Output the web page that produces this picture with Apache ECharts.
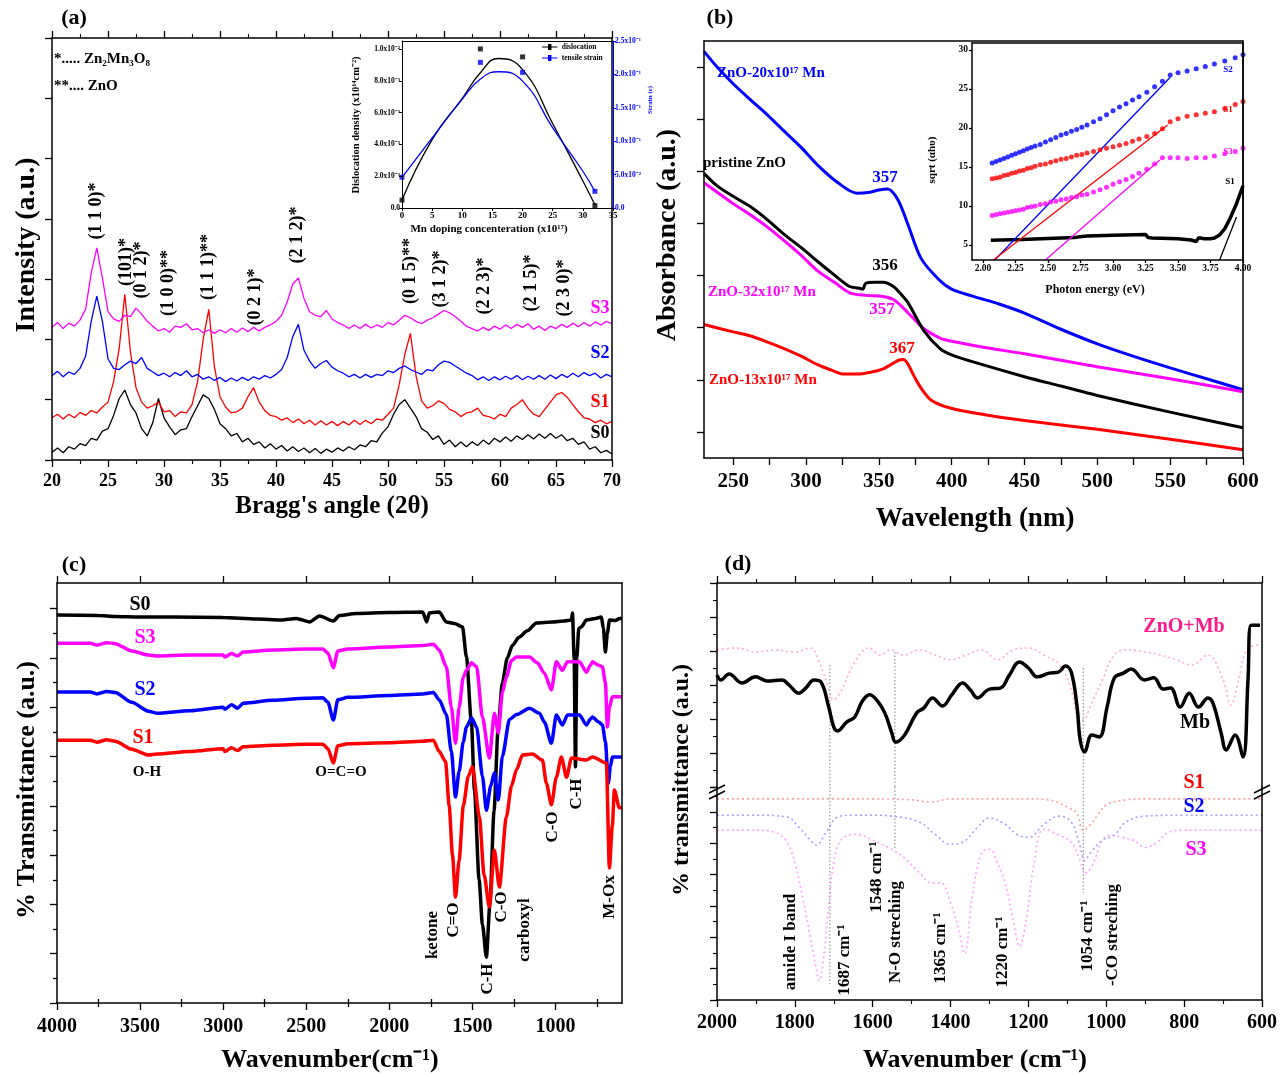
<!DOCTYPE html>
<html>
<head>
<meta charset="utf-8">
<title>Mn doped ZnO - XRD, UV-vis, FTIR</title>
<script src="https://cdn.jsdelivr.net/npm/echarts@6.0.0/dist/echarts.min.js"></script>
<style>
  html, body { margin: 0; padding: 0; background: #fff; }
  #chart { width: 1284px; height: 1077px; }
</style>
</head>
<body>
<div id="chart"></div>
<script>
// ---------- (a) XRD ----------
const xrdAngle = [20,20.5,21,21.5,22,22.5,23,23.5,24,24.5,25,25.5,26,26.5,27,27.5,28,28.5,29,29.5,
  30,30.5,31,31.5,32,32.5,33,33.5,34,34.5,35,35.5,36,36.5,37,37.5,38,38.5,39,39.5,
  40,40.5,41,41.5,42,42.5,43,43.5,44,44.5,45,45.5,46,46.5,47,47.5,48,48.5,49,49.5,
  50,50.5,51,51.5,52,52.5,53,53.5,54,54.5,55,55.5,56,56.5,57,57.5,58,58.5,59,59.5,
  60,60.5,61,61.5,62,62.5,63,63.5,64,64.5,65,65.5,66,66.5,67,67.5,68,68.5,69,69.5,70];
const xrdS0 = [0.13,0.20,0.12,0.22,0.18,0.27,0.24,0.36,0.33,0.48,
  0.52,0.74,1.02,1.16,0.92,0.78,0.52,0.40,0.62,1.02,
  0.70,0.55,0.42,0.50,0.52,0.72,0.90,1.08,1.02,0.84,
  0.60,0.52,0.40,0.44,0.30,0.36,0.26,0.30,0.20,0.27,
  0.18,0.24,0.15,0.22,0.14,0.20,0.12,0.19,0.11,0.18,
  0.13,0.20,0.15,0.22,0.17,0.25,0.22,0.32,0.30,0.45,
  0.55,0.76,0.92,1.00,0.86,0.72,0.52,0.46,0.34,0.40,
  0.26,0.33,0.22,0.30,0.22,0.30,0.24,0.33,0.26,0.36,
  0.30,0.38,0.31,0.40,0.34,0.42,0.35,0.43,0.36,0.44,
  0.36,0.42,0.32,0.36,0.26,0.30,0.18,0.22,0.12,0.16,
  0.10];
const xrdS1 = [0.70,0.76,0.68,0.76,0.70,0.79,0.74,0.82,0.78,0.88,
  0.96,1.30,1.85,2.75,1.80,1.20,0.96,0.86,0.90,0.96,
  0.80,0.82,0.72,0.80,0.78,0.92,1.30,2.00,2.50,1.55,
  1.05,0.88,0.78,0.80,0.86,1.05,1.20,0.96,0.82,0.74,
  0.72,0.66,0.70,0.62,0.68,0.60,0.66,0.58,0.65,0.58,
  0.64,0.57,0.64,0.58,0.66,0.59,0.66,0.60,0.68,0.66,
  0.76,0.86,1.25,1.75,2.10,1.40,0.98,0.86,0.90,0.98,
  0.94,0.84,0.80,0.72,0.78,0.80,0.86,0.74,0.72,0.68,
  0.76,0.72,0.86,0.92,1.00,0.86,0.76,0.72,0.84,0.96,
  1.08,1.12,1.04,0.92,0.80,0.70,0.68,0.62,0.66,0.60,
  0.64];
const xrdS2 = [1.40,1.47,1.38,1.46,1.42,1.52,1.72,2.30,2.72,2.30,
  1.68,1.52,1.50,1.58,1.64,1.60,1.70,1.52,1.46,1.40,
  1.44,1.38,1.45,1.40,1.48,1.38,1.42,1.34,1.38,1.32,
  1.37,1.30,1.36,1.31,1.37,1.32,1.38,1.34,1.40,1.36,
  1.42,1.50,1.70,2.05,2.25,1.82,1.64,1.52,1.60,1.65,
  1.54,1.48,1.44,1.38,1.42,1.36,1.42,1.37,1.42,1.40,
  1.48,1.45,1.52,1.56,1.50,1.46,1.42,1.50,1.48,1.58,
  1.64,1.62,1.56,1.50,1.44,1.40,1.33,1.38,1.32,1.38,
  1.33,1.39,1.34,1.40,1.33,1.39,1.34,1.40,1.34,1.41,
  1.35,1.42,1.37,1.44,1.38,1.45,1.40,1.44,1.36,1.42,
  1.38];
const xrdS3 = [2.20,2.28,2.18,2.27,2.22,2.32,2.50,3.10,3.52,3.02,
  2.46,2.34,2.30,2.40,2.38,2.52,2.42,2.30,2.22,2.14,
  2.18,2.12,2.22,2.20,2.26,2.16,2.18,2.11,2.16,2.10,
  2.16,2.11,2.18,2.12,2.19,2.13,2.20,2.14,2.20,2.24,
  2.30,2.40,2.62,2.92,3.02,2.68,2.46,2.40,2.38,2.48,
  2.34,2.28,2.24,2.18,2.24,2.18,2.25,2.19,2.24,2.20,
  2.28,2.24,2.32,2.40,2.36,2.30,2.26,2.32,2.36,2.42,
  2.48,2.44,2.38,2.30,2.22,2.18,2.14,2.20,2.15,2.22,
  2.17,2.24,2.18,2.25,2.20,2.26,2.17,2.22,2.15,2.22,
  2.18,2.25,2.20,2.27,2.21,2.28,2.22,2.29,2.24,2.30,
  2.26];
const hklLabels = ['(1 1 0)*','(101)*','(0 1 2)*','(1 0 0)**','(1 1 1)**','(0 2 1)*','(2 1 2)*','(0 1 5)**','(3 1 2)*','(2 2 3)*','(2 1 5)*','(2 3 0)*'];

// (a) inset: dislocation density and strain vs Mn doping
const mnConc = [0, 13, 20, 32];
const dislocation = [0.05, 1.0, 0.95, 0.015];
const strain = [0.046, 0.218, 0.203, 0.025];
const fitConc = [0, 5, 10, 13, 16, 20, 25, 30, 32];
const dislocFit = [0.05, 0.43, 0.69, 0.85, 0.94, 0.87, 0.53, 0.17, 0.02];
const strainFit = [0.046, 0.105, 0.163, 0.193, 0.204, 0.190, 0.120, 0.055, 0.025];
const dislocTicks = [0, 0.2, 0.4, 0.6, 0.8, 1.0];
const dislocTickText = ['0.0', '2.0x10⁻³', '4.0x10⁻³', '6.0x10⁻³', '8.0x10⁻³', '1.0x10⁻²'];
const strainTicks = [0, 0.05, 0.1, 0.15, 0.2, 0.25];
const strainTickText = ['0.0', '5.0x10⁻²', '1.0x10⁻¹', '1.5x10⁻¹', '2.0x10⁻¹', '2.5x10⁻¹'];

// ---------- (b) UV-vis ----------
const uvBlueWl = [230,239,250,262,274,285,297,308,322,335,344,350,356,363,370,379,391,400,415,433,450,475,500,525,550,575,600];
const uvBlueAbs = [7.80,7.50,7.18,6.87,6.57,6.27,5.95,5.62,5.28,5.08,5.10,5.14,5.16,4.96,4.48,3.83,3.43,3.24,3.10,2.95,2.78,2.47,2.19,1.95,1.73,1.52,1.31];
const uvBlackWl = [230,239,250,262,274,285,297,308,320,330,336,339,341,347,353,360,365,370,381,392,400,420,450,475,500,550,600];
const uvBlackAbs = [5.46,5.22,5.02,4.82,4.56,4.29,4.03,3.77,3.50,3.29,3.26,3.24,3.35,3.37,3.37,3.29,3.15,2.98,2.44,2.10,1.98,1.80,1.56,1.38,1.20,0.88,0.58];
const uvMagWl = [230,250,262,274,285,297,308,320,330,341,353,360,366,373,381,392,400,425,450,500,550,600];
const uvMagAbs = [5.28,4.88,4.66,4.42,4.17,3.88,3.59,3.36,3.17,3.12,3.10,3.04,2.90,2.70,2.48,2.30,2.24,2.11,2.00,1.75,1.52,1.27];
const uvRedWl = [230,250,262,274,285,297,308,318,326,335,345,353,360,364,367,370,374,379,386,399,425,450,500,550,600];
const uvRedAbs = [2.56,2.42,2.34,2.22,2.10,1.95,1.79,1.68,1.61,1.61,1.65,1.71,1.82,1.88,1.89,1.80,1.58,1.34,1.11,0.96,0.82,0.72,0.55,0.36,0.16];
const uvTickWl = [250,275,300,325,350,375,400,425,450,475,500,525,550,575,600];
const uvLabelWl = [250,300,350,400,450,500,550,600];

// (b) inset: Tauc plot
const tEnergy = [2.07,2.10,2.13,2.16,2.19,2.22,2.25,2.28,2.31,2.34,2.37,2.40,2.44,2.48,2.52,2.56,2.60,2.64,2.68,2.72,2.76,2.80,2.85,2.90,2.95,3.00,3.05,3.10,3.15,3.20,3.26,3.32,3.38,3.44,3.50,3.57,3.64,3.71,3.78,3.86,3.94,4.00];
const tS2 = [15.5,15.7,15.9,16.1,16.3,16.5,16.7,16.9,17.1,17.3,17.5,17.7,17.9,18.2,18.5,18.8,19.1,19.3,19.6,19.8,20.1,20.4,20.8,21.2,21.7,22.2,22.7,23.1,23.6,24.0,24.6,25.3,26.0,26.8,27.1,27.3,27.6,27.9,28.2,28.6,29.0,29.4];
const tS1 = [13.5,13.6,13.7,13.9,14.0,14.2,14.3,14.5,14.6,14.8,14.9,15.1,15.3,15.4,15.6,15.8,16.0,16.1,16.3,16.5,16.6,16.8,17.0,17.2,17.4,17.6,17.8,18.0,18.3,18.6,18.9,19.3,19.9,20.8,21.2,21.5,21.7,21.9,22.1,22.5,23.0,23.4];
const tS3 = [8.8,8.9,9.0,9.1,9.2,9.3,9.4,9.5,9.6,9.8,9.9,10.0,10.2,10.3,10.5,10.6,10.8,10.9,11.1,11.2,11.4,11.5,11.8,12.1,12.4,12.8,13.1,13.4,13.8,14.2,14.7,15.4,16.2,16.2,16.2,16.1,16.2,16.2,16.4,16.7,17.0,17.4];
const tS0Energy = [2.06,2.30,2.50,2.70,2.76,2.80,3.00,3.25,3.27,3.30,3.50,3.60,3.64,3.66,3.70,3.75,3.78,3.82,3.86,3.90,3.95,4.00];
const tS0 = [5.6,5.7,5.85,5.95,6.1,6.15,6.25,6.35,5.95,5.9,5.8,5.65,5.45,5.95,5.8,5.8,5.9,6.3,7.1,8.4,10.3,12.6];
const fitS2E = [2.09, 3.44], fitS2V = [3.08, 26.5];
const fitS1E = [2.08, 3.42], fitS1V = [3.08, 20.4];
const fitS3E = [2.48, 3.36], fitS3V = [3.08, 15.9];
const fitS0E = [3.82, 3.95], fitS0V = [3.08, 8.6];
const tEnergyTicks = [2.0, 2.25, 2.5, 2.75, 3.0, 3.25, 3.5, 3.75, 4.0];
const tSqrtTicks = [5, 10, 15, 20, 25, 30];

// ---------- (c) FTIR ----------
const irS0Wn = [4000,3750,3650,3500,3300,3000,2800,2650,2560,2480,2420,2337,2300,2200,2000,1800,1775,1760,1740,1700,1657,1609,1560,1536,1506,1488,1460,1440,1416,1395,1370,1345,1320,1290,1260,1220,1170,1115,1019,950,904,898,888,880,872,860,844,814,760,724,712,700,688,675,640,615,600];
const irS0 = [7.87,7.86,7.84,7.83,7.83,7.82,7.79,7.77,7.80,7.73,7.85,7.75,7.86,7.90,7.92,7.93,7.73,7.91,7.92,7.93,7.73,7.70,7.63,7.02,5.68,4.32,2.50,1.60,0.93,2.00,3.90,5.60,6.50,7.00,7.25,7.42,7.55,7.71,7.73,7.75,7.77,7.91,7.00,4.79,7.00,7.60,7.63,7.77,7.80,7.83,7.60,7.12,7.50,7.77,7.76,7.80,7.80];
const irS3Wn = [4000,3800,3760,3700,3650,3550,3450,3400,3200,3000,2990,2950,2913,2880,2700,2500,2400,2370,2337,2310,2250,2000,1800,1735,1700,1657,1627,1602,1580,1555,1536,1505,1475,1440,1398,1368,1344,1320,1296,1265,1235,1157,1109,1067,1025,995,959,928,880,856,814,790,778,740,718,700,688,676,658,616,600];
const irS3 = [7.30,7.30,7.26,7.31,7.29,7.14,7.06,7.04,7.06,7.06,7.02,7.09,7.04,7.12,7.16,7.18,7.18,7.10,6.80,7.14,7.18,7.22,7.25,7.28,7.16,6.82,6.00,5.27,6.00,6.61,6.75,6.90,6.82,5.80,4.97,5.88,5.48,6.30,6.61,6.95,7.02,7.02,6.90,6.69,6.35,6.92,6.75,6.92,6.92,6.92,6.71,6.85,6.92,6.85,6.82,6.50,5.60,6.00,6.21,6.21,6.21];
const irS2Wn = [4000,3800,3760,3700,3650,3550,3450,3400,3200,3000,2990,2950,2913,2880,2700,2500,2400,2370,2337,2310,2250,2000,1800,1735,1700,1657,1627,1602,1580,1555,1536,1505,1475,1440,1416,1390,1368,1344,1320,1277,1235,1157,1097,1067,1025,995,959,928,880,856,814,790,778,740,718,700,682,670,658,616,600];
const irS2 = [6.31,6.31,6.27,6.32,6.30,6.10,5.92,5.88,5.93,6.00,5.96,6.05,5.98,6.08,6.14,6.18,6.19,6.10,5.74,6.15,6.20,6.24,6.27,6.30,6.15,5.85,5.10,4.18,4.70,5.30,5.60,5.78,5.60,4.60,3.91,4.40,4.67,4.12,5.00,5.75,5.85,5.98,5.88,5.70,5.27,5.84,5.64,5.84,5.84,5.84,5.64,5.76,5.80,5.70,5.64,5.30,4.46,4.80,4.99,4.99,4.99];
const irS1Wn = [4000,3800,3760,3700,3650,3550,3450,3400,3200,3000,2990,2950,2913,2880,2700,2500,2400,2370,2337,2310,2250,2000,1800,1735,1700,1662,1640,1620,1602,1580,1555,1525,1500,1458,1430,1398,1368,1338,1296,1265,1235,1199,1139,1079,1055,1025,995,965,934,904,814,778,694,676,658,646,616,600];
const irS1 = [5.33,5.33,5.29,5.34,5.31,5.15,5.03,5.05,5.10,5.16,5.10,5.18,5.12,5.20,5.23,5.25,5.25,5.16,4.87,5.22,5.26,5.28,5.31,5.33,5.10,4.90,4.00,3.00,2.15,2.90,4.00,4.60,4.79,3.77,2.60,1.95,3.10,2.35,3.77,4.40,4.73,5.03,5.05,4.93,4.46,4.02,4.58,4.99,4.58,4.97,4.93,4.99,4.87,2.74,3.60,4.32,3.96,3.96];
const irTicks = [1000,1500,2000,2500,3000,3500,4000];
const irMinorTicks = [750,1250,1750,2250,2750,3250,3750];

// ---------- (d) FTIR, Mb region ----------
const mbWn = [2000,1990,1969,1936,1901,1872,1833,1815,1790,1772,1751,1733,1713,1700,1690,1667,1646,1628,1608,1590,1569,1551,1541,1518,1487,1469,1446,1421,1397,1369,1349,1331,1300,1272,1249,1223,1200,1177,1147,1123,1105,1090,1075,1067,1056,1037,1018,998,979,956,936,902,878,854,835,810,787,763,739,726,705,692,669,649,636,628,605];
const mbT = [3.29,3.15,3.32,3.06,3.24,3.12,3.15,3.00,2.76,2.91,3.15,3.09,2.35,1.76,1.65,1.91,2.06,2.50,2.71,2.56,2.18,1.59,1.32,1.53,2.18,2.32,2.62,2.38,2.71,3.06,2.85,2.62,2.88,2.91,3.29,3.68,3.50,3.24,3.35,3.38,3.56,3.38,2.35,1.38,1.03,1.53,1.47,2.35,3.21,3.35,3.47,3.15,3.21,2.88,2.91,2.35,2.76,2.35,2.62,2.47,1.59,1.09,1.53,0.88,3.15,4.76,4.76];
const znoMbWn = [2000,1950,1900,1850,1800,1760,1740,1720,1700,1680,1650,1610,1580,1555,1520,1480,1440,1400,1360,1320,1280,1240,1200,1160,1120,1090,1075,1060,1040,1010,980,950,900,860,820,780,740,700,680,660,640,610];
const znoMbT = [4.03,4.09,3.97,4.03,3.97,4.09,3.74,3.15,2.56,2.85,3.59,4.09,3.88,4.03,3.88,4.03,3.88,3.74,3.88,4.03,3.74,4.03,4.09,3.88,3.59,2.85,2.12,1.97,2.41,3.15,3.88,4.03,3.97,3.88,3.74,3.59,3.88,3.15,2.41,3.15,4.03,4.18];
const dS1Wn = [2000,1900,1800,1700,1600,1500,1450,1400,1300,1200,1150,1100,1075,1060,1040,1020,1000,950,900,800,700,600];
const dS1T = [6.42,6.42,6.42,6.42,6.42,6.39,6.32,6.42,6.42,6.42,6.39,6.16,5.94,5.42,5.61,5.94,6.23,6.39,6.42,6.42,6.42,6.42];
const dS2Wn = [2000,1900,1820,1790,1760,1745,1720,1690,1650,1600,1550,1480,1440,1400,1370,1330,1300,1260,1230,1200,1160,1120,1090,1070,1055,1040,1010,980,950,900,800,700,600];
const dS2T = [5.90,5.90,5.84,5.52,5.10,4.94,5.35,5.84,5.90,5.90,5.87,5.68,5.29,4.97,5.03,5.52,5.81,5.61,5.29,5.19,5.61,5.87,5.68,5.03,4.45,4.71,5.10,5.26,5.68,5.87,5.90,5.90,5.90];
const dS3Wn = [2000,1900,1850,1820,1800,1780,1760,1745,1738,1725,1712,1700,1680,1640,1600,1560,1520,1480,1450,1426,1400,1380,1364,1345,1320,1300,1280,1260,1240,1223,1205,1185,1160,1120,1090,1070,1052,1035,1010,990,960,930,900,870,840,800,700,600];
const dS3T = [5.42,5.42,5.35,5.03,4.39,3.26,1.97,1.00,0.61,1.48,3.10,4.39,5.13,5.29,5.10,4.87,4.55,4.06,3.74,3.74,3.10,2.29,1.48,3.26,4.71,4.81,4.39,3.74,2.61,1.71,2.61,4.39,5.45,5.26,5.03,4.55,4.06,4.32,5.10,5.26,5.19,5.10,4.87,5.03,5.35,5.42,5.42,5.42];
const dropWn = [1710, 1543, 1059];
const dropUpperFrom = [3.59, 3.97, 3.50];
const dropLowerTo = [0.52, 4.81, 3.42];

// ---------- styling ----------
const FONT = '"Liberation Serif", "Times New Roman", serif';
const BLUE = '#0000ff', RED = '#ff0000', MAG = '#ff00ff', BLK = '#000000';

const grids = [], xAxes = [], yAxes = [], series = [], elements = [];

function lbl(size, extra) {
  return Object.assign({ show: true, color: '#000', fontFamily: FONT, fontWeight: 'bold', fontSize: size }, extra || {});
}
function tick(len, extra) {
  return Object.assign({ show: true, length: len, lineStyle: { color: '#000', width: 1.3 } }, extra || {});
}
function minor(len) {
  return { show: true, splitNumber: 2, length: len, lineStyle: { color: '#000', width: 1.1 } };
}
function axis(gridIndex, position, min, max, o) {
  return Object.assign({
    type: 'value', gridIndex, position, min, max,
    axisLine: { show: true, onZero: false, lineStyle: { color: '#000', width: 1.5 } },
    axisTick: { show: false },
    axisLabel: { show: false },
    splitLine: { show: false },
    minorTick: { show: false },
    z: 5
  }, o || {});
}
function thin(color) {
  return { show: true, onZero: false, lineStyle: { color: color || '#000', width: 1 } };
}
const plain = v => String(v);
function pairs(xs, ys) { return xs.map((x, i) => [x, ys[i]]); }
function line(xi, yi, xs, ys, color, width, extra) {
  return Object.assign({
    type: 'line', xAxisIndex: xi, yAxisIndex: yi, data: pairs(xs, ys),
    showSymbol: false, symbol: 'none', silent: true,
    lineStyle: { color, width }, itemStyle: { color }, z: 3
  }, extra || {});
}
function pick(ticks, texts) {
  return v => { const i = ticks.findIndex(t => Math.abs(t - v) < 1e-9); return i < 0 ? '' : texts[i]; };
}
function txt(x, y, text, size, color, opt) {
  const o = opt || {};
  return {
    type: 'text', x, y, rotation: o.rot ? Math.PI / 2 : 0, z: 20,
    style: {
      text, fill: color || BLK, font: 'bold ' + size + 'px ' + FONT,
      align: o.align || 'center', textAlign: o.align || 'center',
      verticalAlign: 'middle', textVerticalAlign: 'middle'
    }
  };
}

// ---------- (a) main ----------
const gA = grids.push({ left: 52, top: 38, width: 560, height: 422 }) - 1;
const xA = xAxes.push(axis(gA, 'bottom', 20, 70, { interval: 5, axisTick: tick(7), minorTick: minor(4), axisLabel: lbl(18, { margin: 12 }) })) - 1;
xAxes.push(axis(gA, 'top', 20, 70, { interval: 5, axisTick: tick(7), minorTick: minor(4) }));
const yA = yAxes.push(axis(gA, 'left', 0, 7, { interval: 1, axisTick: tick(7) })) - 1;
yAxes.push(axis(gA, 'right', 0, 7, {}));
series.push(line(xA, yA, xrdAngle, xrdS0, BLK, 1.3));
series.push(line(xA, yA, xrdAngle, xrdS1, RED, 1.3));
series.push(line(xA, yA, xrdAngle, xrdS2, BLUE, 1.3));
series.push(line(xA, yA, xrdAngle, xrdS3, MAG, 1.3));

// ---------- (a) inset ----------
const gAi = grids.push({ left: 402, top: 41, width: 211, height: 167 }) - 1;
const xAi = xAxes.push(axis(gAi, 'bottom', 0, 35, { interval: 5, axisLine: thin(), axisTick: tick(3, { lineStyle: { color: '#000', width: 1 } }), axisLabel: lbl(9, { margin: 3 }) })) - 1;
xAxes.push(axis(gAi, 'top', 0, 35, { axisLine: thin() }));
const yAiL = yAxes.push(axis(gAi, 'left', 0, 1.05, {
  axisLine: thin(), axisTick: tick(3, { customValues: dislocTicks, lineStyle: { color: '#000', width: 1 } }),
  axisLabel: lbl(7.5, { margin: 2, customValues: dislocTicks, formatter: pick(dislocTicks, dislocTickText) })
})) - 1;
const yAiR = yAxes.push(axis(gAi, 'right', 0, 0.25, {
  axisLine: thin(BLUE), axisTick: tick(3, { customValues: strainTicks, lineStyle: { color: BLUE, width: 1 } }),
  axisLabel: lbl(7.5, { color: BLUE, margin: 2, customValues: strainTicks, formatter: pick(strainTicks, strainTickText) })
})) - 1;
series.push(line(xAi, yAiL, fitConc, dislocFit, BLK, 1.3, { name: 'dislocation', smooth: true }));
series.push(line(xAi, yAiR, fitConc, strainFit, BLUE, 1.3, { name: 'tensile strain', smooth: true }));
series.push({ type: 'scatter', xAxisIndex: xAi, yAxisIndex: yAiL, data: pairs(mnConc, dislocation), symbol: 'rect', symbolSize: 5, itemStyle: { color: BLK }, silent: true, z: 4 });
series.push({ type: 'scatter', xAxisIndex: xAi, yAxisIndex: yAiR, data: pairs(mnConc, strain), symbol: 'rect', symbolSize: 5, itemStyle: { color: BLUE }, silent: true, z: 4 });

// ---------- (b) main ----------
const gB = grids.push({ left: 704, top: 41, width: 539, height: 417 }) - 1;
const xB = xAxes.push(axis(gB, 'bottom', 230, 600, { axisTick: tick(7, { customValues: uvTickWl }), axisLabel: lbl(21, { margin: 13, customValues: uvLabelWl }) })) - 1;
xAxes.push(axis(gB, 'top', 230, 600, {}));
const yB = yAxes.push(axis(gB, 'left', 0, 8, { axisTick: tick(7, { customValues: [0.5, 1.5, 2.5, 3.5, 4.5, 5.5, 6.5, 7.5] }) })) - 1;
yAxes.push(axis(gB, 'right', 0, 8, {}));
series.push(line(xB, yB, uvBlueWl, uvBlueAbs, BLUE, 3, { smooth: 0.3 }));
series.push(line(xB, yB, uvMagWl, uvMagAbs, MAG, 3, { smooth: 0.3 }));
series.push(line(xB, yB, uvBlackWl, uvBlackAbs, BLK, 3, { smooth: 0.3 }));
series.push(line(xB, yB, uvRedWl, uvRedAbs, RED, 3, { smooth: 0.3 }));

// ---------- (b) inset ----------
const gBi = grids.push({ left: 972, top: 43, width: 271, height: 217, show: true, backgroundColor: '#fff', borderColor: 'transparent' }) - 1;
const xBi = xAxes.push(axis(gBi, 'bottom', 1.915, 4.0, {
  axisTick: tick(3, { customValues: tEnergyTicks }),
  axisLabel: lbl(9.5, { margin: 4, customValues: tEnergyTicks, formatter: v => v.toFixed(2) })
})) - 1;
xAxes.push(axis(gBi, 'top', 1.915, 4.0, {}));
const yBi = yAxes.push(axis(gBi, 'left', 3.08, 30.9, {
  axisTick: tick(3, { customValues: tSqrtTicks }),
  axisLabel: lbl(9.5, { margin: 4, customValues: tSqrtTicks })
})) - 1;
yAxes.push(axis(gBi, 'right', 3.08, 30.9, {}));
series.push(line(xBi, yBi, tS0Energy, tS0, BLK, 3.5));
[[tS2, BLUE], [tS1, RED], [tS3, MAG]].forEach(([vals, c]) => {
  series.push({ type: 'scatter', xAxisIndex: xBi, yAxisIndex: yBi, data: pairs(tEnergy, vals), symbol: 'circle', symbolSize: 5, itemStyle: { color: c }, silent: true, z: 4 });
});
series.push(line(xBi, yBi, fitS2E, fitS2V, BLUE, 1.3));
series.push(line(xBi, yBi, fitS1E, fitS1V, RED, 1.3));
series.push(line(xBi, yBi, fitS3E, fitS3V, MAG, 1.3));
series.push(line(xBi, yBi, fitS0E, fitS0V, BLK, 1.3));

// ---------- (c) ----------
const gC = grids.push({ left: 57, top: 583, width: 565, height: 420 }) - 1;
const xC = xAxes.push(axis(gC, 'bottom', 600, 4000, { inverse: true, axisTick: tick(7, { customValues: irTicks }), axisLabel: lbl(20, { margin: 14, customValues: irTicks, formatter: plain }) })) - 1;
xAxes.push(axis(gC, 'bottom', 600, 4000, { inverse: true, axisLine: { show: false }, axisTick: tick(4, { customValues: irMinorTicks }) }));
xAxes.push(axis(gC, 'top', 600, 4000, { inverse: true, axisTick: tick(7, { customValues: irTicks }) }));
xAxes.push(axis(gC, 'top', 600, 4000, { inverse: true, axisLine: { show: false }, axisTick: tick(4, { customValues: irMinorTicks }) }));
const yC = yAxes.push(axis(gC, 'left', 0, 8.52, { axisTick: tick(7, { customValues: [0, 1, 2, 3, 4, 5, 6, 7, 8] }) })) - 1;
yAxes.push(axis(gC, 'left', 0, 8.52, { axisLine: { show: false }, axisTick: tick(4, { customValues: [0.5, 1.5, 2.5, 3.5, 4.5, 5.5, 6.5, 7.5] }) }));
yAxes.push(axis(gC, 'right', 0, 8.52, {}));
const irOpt = { smooth: 0.25, smoothMonotone: 'x' };
series.push(line(xC, yC, irS0Wn, irS0, BLK, 3.5, irOpt));
series.push(line(xC, yC, irS3Wn, irS3, MAG, 3.5, irOpt));
series.push(line(xC, yC, irS2Wn, irS2, BLUE, 3.5, irOpt));
series.push(line(xC, yC, irS1Wn, irS1, RED, 3.5, irOpt));

// ---------- (d) broken axis: upper + lower ----------
const gDu = grids.push({ left: 717, top: 583, width: 545, height: 204 }) - 1;
const gDl = grids.push({ left: 717, top: 787, width: 545, height: 213 }) - 1;
const xDu = xAxes.push(axis(gDu, 'bottom', 600, 2000, { inverse: true, axisLine: { show: false } })) - 1;
xAxes.push(axis(gDu, 'top', 600, 2000, { inverse: true, interval: 200, axisTick: tick(7), minorTick: minor(4) }));
const yDu = yAxes.push(axis(gDu, 'left', 0, 6, { interval: 1, axisTick: tick(7), minorTick: minor(4) })) - 1;
yAxes.push(axis(gDu, 'right', 0, 6, {}));
const xDl = xAxes.push(axis(gDl, 'bottom', 600, 2000, { inverse: true, interval: 200, axisTick: tick(7), minorTick: minor(4), axisLabel: lbl(20, { margin: 13, formatter: plain }) })) - 1;
const yDl = yAxes.push(axis(gDl, 'left', 0, 6.8, { interval: 1, axisTick: tick(7), minorTick: minor(4) })) - 1;
yAxes.push(axis(gDl, 'right', 0, 6.8, {}));

const dotted = (c) => ({ lineStyle: { color: c, width: 1.6, type: [2, 3], opacity: 0.75 } });
series.push(Object.assign(line(xDu, yDu, znoMbWn, znoMbT, '#ff8cc8', 1.6, { smooth: 0.4 }), dotted('#ff8cc8')));
series.push(Object.assign(line(xDl, yDl, dS1Wn, dS1T, '#ff7f7f', 1.6, { smooth: 0.4 }), dotted('#ff7f7f')));
series.push(Object.assign(line(xDl, yDl, dS2Wn, dS2T, '#8080ff', 1.6, { smooth: 0.4 }), dotted('#8080ff')));
series.push(Object.assign(line(xDl, yDl, dS3Wn, dS3T, '#ff80ff', 1.6, { smooth: 0.4 }), dotted('#ff80ff')));
dropWn.forEach((w, i) => {
  series.push(Object.assign(line(xDu, yDu, [w, w], [dropUpperFrom[i], 0], '#999', 1.2), { lineStyle: { color: '#999', width: 1.2, type: [1.5, 2] } }));
  series.push(Object.assign(line(xDl, yDl, [w, w], [6.8, dropLowerTo[i]], '#999', 1.2), { lineStyle: { color: '#999', width: 1.2, type: [1.5, 2] } }));
});
series.push(line(xDu, yDu, mbWn, mbT, BLK, 3.5, { smooth: 0.4, z: 6 }));

// ---------- text ----------
// (a)
elements.push(txt(74, 18, '(a)', 22));
elements.push(txt(54, 59, '*..... Zn₂Mn₃O₈', 15, BLK, { align: 'left' }));
elements.push(txt(54, 86, '**.... ZnO', 15, BLK, { align: 'left' }));
const hklPos = [[96, 211], [126, 262], [141, 270], [168, 283], [208, 267], [255, 297], [297, 235], [410, 271], [440, 279], [484, 286], [531, 283], [564, 288]];
hklLabels.forEach((t, i) => elements.push(txt(hklPos[i][0], hklPos[i][1], t, 18, BLK, { rot: true })));
elements.push(txt(600, 308, 'S3', 18, MAG));
elements.push(txt(600, 353, 'S2', 18, BLUE));
elements.push(txt(600, 402, 'S1', 18, RED));
elements.push(txt(600, 433, 'S0', 18, BLK));
elements.push(txt(27, 245, 'Intensity (a.u.)', 28, BLK, { rot: true }));
elements.push(txt(332, 507, "Bragg's angle (2θ)", 25));
elements.push(txt(356, 125, 'Dislocation density (x10¹⁴cm⁻²)', 10.5, BLK, { rot: true }));
elements.push(txt(489, 229, 'Mn doping concenteration (x10¹⁷)', 11));
elements.push(txt(650, 100, 'Strain (ε)', 7, BLUE, { rot: true }));
// (b)
elements.push(txt(720, 18, '(b)', 22));
elements.push(txt(717, 73, 'ZnO-20x10¹⁷ Mn', 15, BLUE, { align: 'left' }));
elements.push(txt(703, 163, 'pristine ZnO', 15, BLK, { align: 'left' }));
elements.push(txt(885, 178, '357', 17, BLUE));
elements.push(txt(885, 266, '356', 17, BLK));
elements.push(txt(708, 292, 'ZnO-32x10¹⁷ Mn', 15, MAG, { align: 'left' }));
elements.push(txt(882, 310, '357', 17, MAG));
elements.push(txt(902, 349, '367', 17, RED));
elements.push(txt(709, 380, 'ZnO-13x10¹⁷ Mn', 15, RED, { align: 'left' }));
elements.push(txt(668, 235, 'Absorbance (a.u.)', 28, BLK, { rot: true }));
elements.push(txt(975, 519, 'Wavelength (nm)', 27));
elements.push(txt(1228, 70, 'S2', 9, BLUE));
elements.push(txt(1228, 110, 'S1', 9, RED));
elements.push(txt(1228, 152, 'S3', 9, MAG));
elements.push(txt(1230, 182, 'S1', 9, BLK));
elements.push(txt(932, 160, 'sqrt (αhυ)', 11, BLK, { rot: true }));
elements.push(txt(1095, 290, 'Photon energy (eV)', 12));
// (c)
elements.push(txt(74, 565, '(c)', 22));
elements.push(txt(140, 605, 'S0', 20, BLK));
elements.push(txt(145, 638, 'S3', 20, MAG));
elements.push(txt(145, 690, 'S2', 20, BLUE));
elements.push(txt(143, 738, 'S1', 20, RED));
elements.push(txt(147, 772, 'O-H', 15));
elements.push(txt(341, 772, 'O=C=O', 15));
[[433, 935, 'ketone'], [454, 920, 'C=O'], [488, 979, 'C-H'], [502, 907, 'C-O'], [525, 930, 'carboxyl'],
 [553, 827, 'C-O'], [577, 794, 'C-H'], [610, 897, 'M-Ox']].forEach(([x, y, t]) => elements.push(txt(x, y, t, 17, BLK, { rot: true })));
elements.push(txt(27, 790, '% Transmittance (a.u.)', 26, BLK, { rot: true }));
elements.push(txt(330, 1060, 'Wavenumber(cm⁻¹)', 26));
// (d)
elements.push(txt(738, 564, '(d)', 22));
elements.push(txt(1184, 627, 'ZnO+Mb', 20, '#ff1a8c'));
elements.push(txt(1195, 723, 'Mb', 20, BLK));
elements.push(txt(1194, 783, 'S1', 20, RED));
elements.push(txt(1194, 807, 'S2', 20, BLUE));
elements.push(txt(1196, 850, 'S3', 20, MAG));
[[791, 942, 'amide I band'], [845, 960, '1687 cm⁻¹'], [877, 877, '1548 cm⁻¹'], [896, 932, 'N-O streching'],
 [941, 948, '1365 cm⁻¹'], [1003, 952, '1220 cm⁻¹'], [1088, 936, '1054 cm⁻¹'], [1113, 935, '-CO streching']]
  .forEach(([x, y, t]) => elements.push(txt(x, y, t, 17, BLK, { rot: true })));
elements.push(txt(682, 780, '% transmittance (a.u.)', 24, BLK, { rot: true }));
elements.push(txt(975, 1060, 'Wavenumber (cm⁻¹)', 26));
// axis break marks
[717, 1262].forEach(x => {
  elements.push({ type: 'line', z: 20, shape: { x1: x - 8, y1: 793, x2: x + 8, y2: 785 }, style: { stroke: '#000', lineWidth: 1.5 } });
  elements.push({ type: 'line', z: 20, shape: { x1: x - 8, y1: 799, x2: x + 8, y2: 791 }, style: { stroke: '#000', lineWidth: 1.5 } });
});

const chart = echarts.init(document.getElementById('chart'), null, { renderer: 'canvas' });
chart.setOption({
  animation: false,
  backgroundColor: '#fff',
  grid: grids,
  xAxis: xAxes,
  yAxis: yAxes,
  series: series,
  legend: {
    data: ['dislocation', 'tensile strain'],
    left: 542, top: 43, orient: 'vertical', itemWidth: 18, itemHeight: 6, itemGap: 3, padding: 0,
    icon: 'path://M0,3H7V0H11V3H18V4H11V7H7V4H0Z', selectedMode: false,
    textStyle: { fontFamily: FONT, fontWeight: 'bold', fontSize: 7.5, color: '#000', padding: [0, 0, 0, -2] }
  },
  graphic: { elements: elements }
});
</script>
</body>
</html>
